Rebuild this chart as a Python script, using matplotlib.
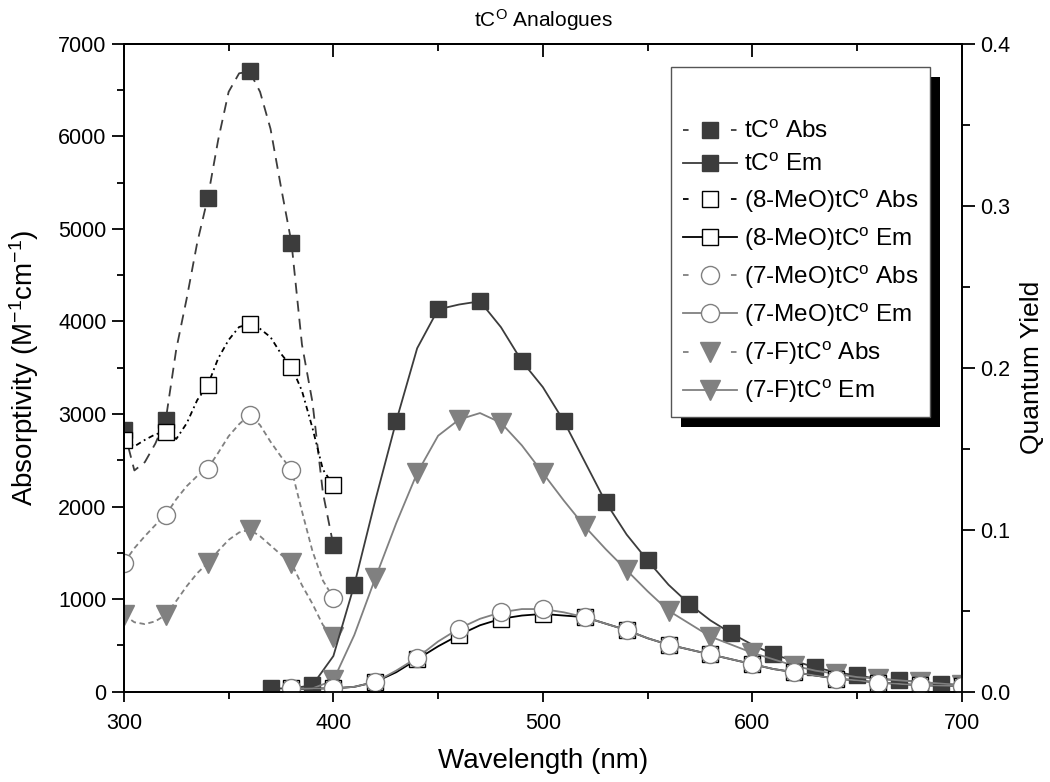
import matplotlib
matplotlib.use('Agg')
import matplotlib.pyplot as plt
from matplotlib.lines import Line2D
from matplotlib.patches import Rectangle
from matplotlib.ticker import MultipleLocator, FormatStrFormatter
from matplotlib.transforms import IdentityTransform

plt.rcParams['font.family'] = ['Liberation Sans', 'DejaVu Sans']
plt.rcParams['mathtext.fontset'] = 'custom'
plt.rcParams['mathtext.rm'] = 'Liberation Sans'
plt.rcParams['mathtext.default'] = 'regular'

# absorption spectra (left axis), 5 nm steps
wl_abs = list(range(300, 405, 5))
tco_abs = [2830, 2390, 2480, 2680, 2940, 3700, 4250, 4850, 5330, 5960, 6480,
           6680, 6700, 6480, 6080, 5450, 4850, 3750, 3130, 2150, 1580]
mo8_abs = [2720, 2650, 2720, 2780, 2810, 2730, 2900, 3150, 3310, 3600, 3800,
           3940, 3970, 3920, 3830, 3650, 3510, 3250, 2850, 2400, 2230]
mo7_abs = [1390, 1550, 1680, 1800, 1910, 2080, 2220, 2330, 2410, 2580, 2760,
           2890, 2990, 2880, 2700, 2540, 2400, 1950, 1520, 1200, 1015]
f7_abs = [830, 750, 730, 760, 830, 980, 1140, 1280, 1390, 1520, 1640,
          1720, 1750, 1680, 1580, 1480, 1390, 1150, 950, 720, 594]

# emission spectra scaled to quantum yield (right axis), 10 nm steps
wl_tco_em = list(range(370, 710, 10))
tco_em = [0.002, 0.002, 0.004, 0.022, 0.066, 0.118, 0.167, 0.212, 0.236, 0.239,
          0.241, 0.225, 0.204, 0.188, 0.167, 0.142, 0.117, 0.097, 0.081, 0.066,
          0.054, 0.044, 0.036, 0.029, 0.023, 0.019, 0.015, 0.012, 0.010, 0.008,
          0.007, 0.006, 0.005, 0.004]
wl_em = list(range(380, 710, 10))
mo8_em = [0.002, 0.002, 0.002, 0.003, 0.006, 0.012, 0.020, 0.028, 0.035, 0.041,
          0.045, 0.047, 0.048, 0.047, 0.046, 0.042, 0.038, 0.033, 0.029, 0.026,
          0.023, 0.020, 0.017, 0.014, 0.012, 0.010, 0.008, 0.007, 0.0056, 0.0048,
          0.004, 0.0037, 0.0035]
mo7_em = [0.002, 0.002, 0.002, 0.003, 0.006, 0.013, 0.021, 0.031, 0.039, 0.045,
          0.049, 0.051, 0.051, 0.049, 0.046, 0.042, 0.038, 0.033, 0.029, 0.026,
          0.023, 0.020, 0.017, 0.014, 0.012, 0.010, 0.008, 0.007, 0.0056, 0.0048,
          0.004, 0.0037, 0.0035]
f7_em = [0.001, 0.002, 0.007, 0.035, 0.070, 0.104, 0.135, 0.158, 0.168, 0.172,
         0.166, 0.152, 0.135, 0.118, 0.102, 0.088, 0.075, 0.062, 0.050, 0.042,
         0.034, 0.029, 0.024, 0.020, 0.016, 0.013, 0.011, 0.009, 0.008, 0.007,
         0.006, 0.005, 0.004]

labels = ['tC$^o$ Abs', 'tC$^o$ Em',
          '(8-MeO)tC$^o$ Abs', '(8-MeO)tC$^o$ Em',
          '(7-MeO)tC$^o$ Abs', '(7-MeO)tC$^o$ Em',
          '(7-F)tC$^o$ Abs', '(7-F)tC$^o$ Em']

dark = '#3c3c3c'
gray = '#808080'
ms = 12
lw = 1.3

fig = plt.figure(figsize=(10.5, 7.82), dpi=100)
ax = fig.add_axes([0.118, 0.1155, 0.798, 0.8286])
ax.patch.set_visible(False)

# absorption (dashed)
ax.plot(wl_abs, tco_abs, color=dark, lw=lw, ls=(0, (6, 4)), marker='s', ms=ms,
        mfc=dark, mec=dark, markevery=4)
ax.plot(wl_abs, mo8_abs, color='black', lw=lw, ls=(0, (3, 2, 1, 2)), marker='s', ms=ms,
        mfc='white', mec='black', markevery=4)
ax.plot(wl_abs, mo7_abs, color=gray, lw=lw, ls=(0, (3, 2)), marker='o', ms=ms + 1,
        mfc='white', mec=gray, markevery=4)
ax.plot(wl_abs, f7_abs, color=gray, lw=lw, ls=(0, (3, 2)), marker='v', ms=ms + 2,
        mfc=gray, mec=gray, markevery=4)

ax.set_xlim(300, 700)
ax.set_ylim(0, 7000)
ax.xaxis.set_major_locator(MultipleLocator(100))
ax.xaxis.set_minor_locator(MultipleLocator(50))
ax.yaxis.set_major_locator(MultipleLocator(1000))
ax.yaxis.set_minor_locator(MultipleLocator(500))
ax.tick_params(axis='both', which='both', width=1.3, labelsize=15.5, top=False,
               right=False, direction='out')
ax.tick_params(axis='y', which='major', length=9)
ax.tick_params(axis='y', which='minor', length=5)
ax.tick_params(axis='x', which='major', length=7.5, pad=8)
ax.tick_params(axis='x', which='minor', length=4.8)
for sp in ax.spines.values():
    sp.set_linewidth(1.3)

# top axis: ticks pointing inward, no labels
top = ax.secondary_xaxis('top')
top.xaxis.set_major_locator(MultipleLocator(100))
top.xaxis.set_minor_locator(MultipleLocator(50))
top.tick_params(axis='x', which='both', direction='in', width=1.3, labeltop=False)
top.tick_params(axis='x', which='major', length=9)
top.tick_params(axis='x', which='minor', length=5)
top.spines['top'].set_linewidth(1.3)

ax.set_xlabel('Wavelength (nm)', fontsize=20, labelpad=10)
ax.set_ylabel('Absorptivity (M$^{-1}$cm$^{-1}$)', fontsize=20, labelpad=12)
ax.set_title('tC$^O$ Analogues', fontsize=15, pad=12)

# emission (solid, right axis)
ax2 = ax.twinx()
ax2.patch.set_visible(False)
ax2.plot(wl_tco_em, tco_em, color=dark, lw=lw, marker='s', ms=ms,
         mfc=dark, mec=dark, markevery=2)
ax2.plot(wl_em, f7_em, color=gray, lw=lw, marker='v', ms=ms + 2,
         mfc=gray, mec=gray, markevery=(2, 2))
ax2.plot(wl_em, mo8_em, color='black', lw=lw, marker='s', ms=ms,
         mfc='white', mec='black', markevery=2)
ax2.plot(wl_em, mo7_em, color=gray, lw=lw, marker='o', ms=ms + 1,
         mfc='white', mec=gray, markevery=2)
ax2.set_ylim(0, 0.4)
ax2.yaxis.set_major_locator(MultipleLocator(0.1))
ax2.yaxis.set_minor_locator(MultipleLocator(0.05))
ax2.yaxis.set_major_formatter(FormatStrFormatter('%.1f'))
ax2.tick_params(axis='y', which='both', width=1.3, labelsize=15.5, direction='out')
ax2.tick_params(axis='y', which='major', length=9.5)
ax2.tick_params(axis='y', which='minor', length=6)
ax2.set_ylabel('Quantum Yield', fontsize=19, labelpad=7)
for sp in ax2.spines.values():
    sp.set_linewidth(1.3)

# legend: Abs entries drawn as "- marker -"
abs_ls = (0, (3.08, 10.2))
handles = [
    Line2D([], [], color=dark, lw=lw, ls=abs_ls, marker='s', ms=ms, mfc=dark, mec=dark),
    Line2D([], [], color=dark, lw=lw, marker='s', ms=ms, mfc=dark, mec=dark),
    Line2D([], [], color='black', lw=lw, ls=abs_ls, marker='s', ms=ms, mfc='white', mec='black'),
    Line2D([], [], color='black', lw=lw, marker='s', ms=ms, mfc='white', mec='black'),
    Line2D([], [], color=gray, lw=lw, ls=abs_ls, marker='o', ms=ms + 1, mfc='white', mec=gray),
    Line2D([], [], color=gray, lw=lw, marker='o', ms=ms + 1, mfc='white', mec=gray),
    Line2D([], [], color=gray, lw=lw, ls=abs_ls, marker='v', ms=ms + 2, mfc=gray, mec=gray),
    Line2D([], [], color=gray, lw=lw, marker='v', ms=ms + 2, mfc=gray, mec=gray),
]
leg = fig.legend(handles, labels, loc='upper left', bbox_to_anchor=(0.639, 0.9143),
                 fontsize=17.5, title=' ', title_fontsize=24, frameon=True,
                 fancybox=False, framealpha=1, edgecolor='#555555',
                 handlelength=2.2, handletextpad=0.3, labelspacing=0.45,
                 borderpad=0.5, borderaxespad=0)
leg.get_frame().set_linewidth(1.0)
leg.set_zorder(10)

fig.canvas.draw()
bb = leg.get_frame().get_window_extent()
shadow = Rectangle((bb.x0 + 10, bb.y0 - 10), bb.width, bb.height,
                   transform=IdentityTransform(), facecolor='black',
                   edgecolor='none', zorder=9)
fig.add_artist(shadow)

fig.savefig('out.png', dpi=100)
